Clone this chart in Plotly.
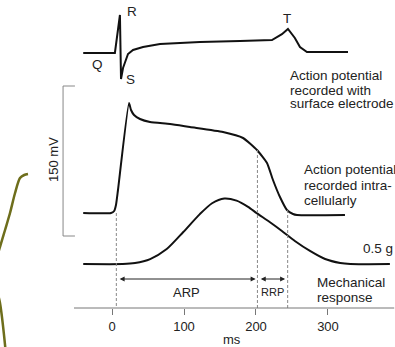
import plotly.graph_objects as go

# ---- data (time in ms) ----
ecg_t = [-40, 4, 11, 12.5, 15.3, 22.2, 29.2, 43.1, 66.7, 94.4, 122.2, 177.8, 222.2, 236, 244.4, 254, 261.1, 270.8, 327.8]
ecg_v = [0, 0, 0.95, -0.65, -0.375, -0.025, 0.075, 0.15, 0.225, 0.25, 0.275, 0.3, 0.325, 0.47, 0.6, 0.375, 0.15, 0.025, 0.025]

ap_t = [-40, -1.4, 3, 5.5, 8.3, 23.6, 26.4, 30.6, 38.9, 52.8, 80.6, 108.3, 154.2, 182, 201.4, 215.3, 223.6, 233.3, 243, 251.4, 257, 323.6]
ap_mv = [-90, -90, -88, -82, -67, 20, 13, 8, 4, 1, -1, -4, -9, -15, -27, -40, -57, -74, -87, -91, -92, -92]

force_t = [-40, 15, 32, 53, 76, 99, 122, 139, 156, 173, 189, 201, 219, 236, 254, 275, 296, 317, 331, 386]
force_g = [0, 0, 0.008, 0.039, 0.117, 0.25, 0.39, 0.475, 0.512, 0.495, 0.447, 0.398, 0.328, 0.258, 0.18, 0.102, 0.039, 0.008, 0, 0]

# fragment of a neighbouring curve at left edge
frag_t = [-116.7, -122, -127.8, -134.7, -141.7, -148.6, -155.6, -165, -155.6, -148.6, -147.9]
frag_v = [-51, -52, -55, -70, -90, -107, -124, -150, -180, -222, -228]

period_t = [6, 202, 244]          # onset, end ARP, end RRP
period_top_mv = [-90, -27, -87]
tick_vals = [0, 100, 200, 300]

FONT = "Liberation Sans, Arial, sans-serif"
W, H = 395, 347
AX_Y = 1 - 308 / H

fig = go.Figure()
fig.add_trace(go.Scatter(x=ecg_t, y=ecg_v, mode="lines", yaxis="y",
                         line=dict(color="#111", width=2)))
fig.add_trace(go.Scatter(x=ap_t, y=ap_mv, mode="lines", yaxis="y2",
                         line=dict(color="#111", width=2, shape="spline", smoothing=0.5)))
fig.add_trace(go.Scatter(x=force_t, y=force_g, mode="lines", yaxis="y3",
                         line=dict(color="#111", width=2, shape="spline", smoothing=0.7)))
fig.add_trace(go.Scatter(x=frag_t, y=frag_v, mode="lines", yaxis="y2",
                         line=dict(color="#6e6e1c", width=2.5, shape="spline", smoothing=0.8)))

shapes = []
for t, top in zip(period_t, period_top_mv):
    shapes.append(dict(type="line", xref="x", yref="y2", x0=t, x1=t, y0=top, y1=-185,
                       line=dict(color="#888", width=1, dash="3px,2px")))
# time axis line
shapes.append(dict(type="line", xref="x", yref="paper", x0=-52.8, x1=392, y0=AX_Y, y1=AX_Y,
                   line=dict(color="#777", width=1)))
# 150 mV scale bar
shapes.append(dict(type="path", xref="x", yref="y2",
                   path="M -51.5,37 L -68,37 L -68,-113 L -51.5,-113",
                   line=dict(color="#888", width=1)))

ann = []
def txt(s, x, y, size=13.5, xanchor="left", angle=0):
    ann.append(dict(text=s, x=x / W, y=1 - y / H, xref="paper", yref="paper",
                    xanchor=xanchor, yanchor="middle", showarrow=False, textangle=angle,
                    font=dict(family=FONT, size=size, color="#222")))

txt("R", 132, 11, xanchor="center")
txt("Q", 97, 65, xanchor="center")
txt("S", 130, 79, xanchor="center")
txt("T", 287, 18, xanchor="center")
txt("Action potential", 288, 75)
txt("recorded with", 288, 90)
txt("surface electrode", 288, 104)
txt("Action potential", 302, 170)
txt("recorded intra-", 302, 185)
txt("cellularly", 302, 200)
txt("0.5 g", 361, 248)
txt("Mechanical", 315, 282)
txt("response", 315, 297)
txt("150 mV", 53, 160, size=13, xanchor="center", angle=-90)
txt("ARP", 186, 292, size=13, xanchor="center")
txt("RRP", 272, 292, size=11, xanchor="center")
txt("ms", 232, 339, size=13, xanchor="center")

# ARP / RRP double arrows
for x0, x1 in [(8.5, 199.5), (204.5, 240.5)]:
    ann.append(dict(x=x1, y=-156, ax=x0, ay=-156, xref="x", yref="y2", axref="x", ayref="y2",
                    text="", showarrow=True, arrowside="end+start", arrowhead=2,
                    arrowsize=1, arrowwidth=1, arrowcolor="#222", standoff=0, startstandoff=0))

fig.update_layout(
    width=W, height=H, margin=dict(l=0, r=0, t=0, b=0),
    paper_bgcolor="white", plot_bgcolor="white", showlegend=False,
    shapes=shapes, annotations=ann,
    xaxis=dict(range=[-155.6, 393.1], anchor="free", position=AX_Y, showline=False,
               showgrid=False, zeroline=False, tickvals=tick_vals, ticks="outside",
               ticklen=6, tickcolor="#777", tickwidth=1,
               tickfont=dict(family=FONT, size=13, color="#222")),
    yaxis=dict(range=[-7.35, 1.325], visible=False),
    yaxis2=dict(range=[-224, 123], overlaying="y", visible=False),
    yaxis3=dict(range=[-0.648, 2.0625], overlaying="y", visible=False),
)

fig.write_html("out.html", config={"displayModeBar": False},
               post_script="document.body.style.margin='0';document.body.style.overflow='hidden';")
